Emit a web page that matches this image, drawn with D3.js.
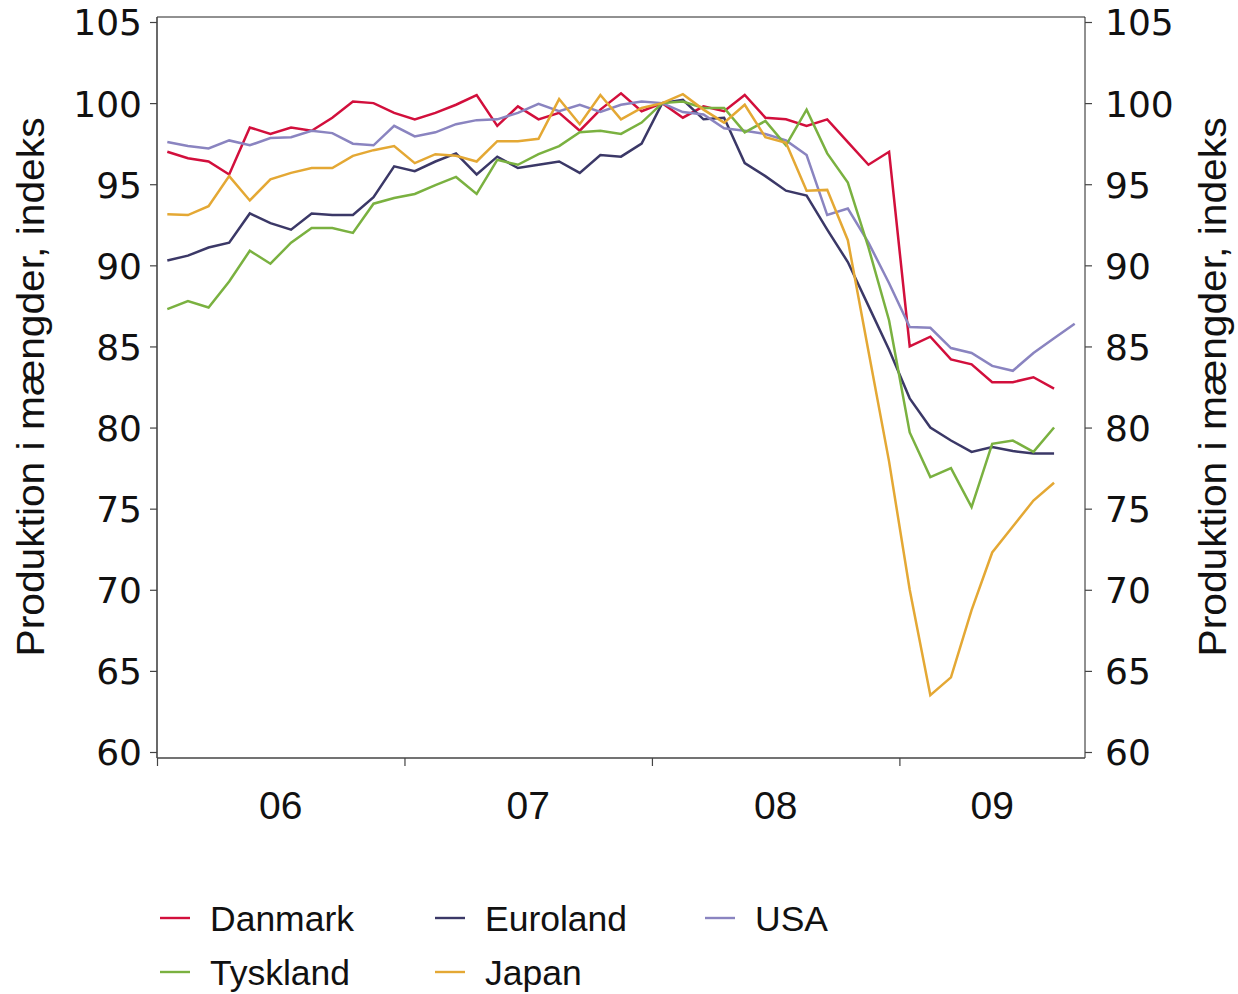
<!DOCTYPE html>
<html><head><meta charset="utf-8">
<script src="https://cdn.jsdelivr.net/npm/d3@7/dist/d3.min.js"></script>
<style>body{margin:0;background:#fff}svg{display:block}</style>
</head><body><svg id="c" width="1238" height="994"></svg>
<script>
// Monthly observations, Jan 2006 .. Sep 2009 (index 0 = Jan 2006)
const monthCount = 45;
const yearLabels = ["06","07","08","09"];
const yearStarts = [0, 12, 24, 36];
const yTicks = [60,65,70,75,80,85,90,95,100,105];

const danmark = [97.0,96.6,96.4,95.6,98.5,98.1,98.5,98.3,99.1,100.1,100.0,99.4,
  99.0,99.4,99.9,100.5,98.6,99.8,99.0,99.4,98.3,99.6,100.6,99.5,
  100.0,99.1,99.8,99.5,100.5,99.1,99.0,98.6,99.0,97.6,96.2,97.0,
  85.0,85.6,84.2,83.9,82.8,82.8,83.1,82.4];
const euroland = [90.3,90.6,91.1,91.4,93.2,92.6,92.2,93.2,93.1,93.1,94.2,96.1,
  95.8,96.4,96.9,95.6,96.7,96.0,96.2,96.4,95.7,96.8,96.7,97.5,
  100.0,100.2,99.0,99.1,96.3,95.5,94.6,94.3,92.2,90.2,87.5,84.8,
  81.8,80.0,79.2,78.5,78.8,78.55,78.4,78.4];
const usa = [97.6,97.35,97.2,97.7,97.4,97.85,97.9,98.3,98.15,97.5,97.4,98.6,
  97.95,98.2,98.7,98.95,99.0,99.4,99.95,99.5,99.9,99.45,99.9,100.1,
  100.0,99.45,99.3,98.45,98.3,98.1,97.7,96.8,93.1,93.5,91.4,88.9,
  86.2,86.15,84.9,84.6,83.8,83.5,84.6,85.5,86.4];
const tyskland = [87.3,87.8,87.4,89.0,90.9,90.1,91.4,92.3,92.3,92.0,93.8,94.15,
  94.4,94.95,95.45,94.4,96.5,96.2,96.85,97.35,98.2,98.3,98.1,98.8,
  100.0,100.1,99.7,99.7,98.2,98.9,97.4,99.6,96.9,95.1,91.1,86.6,
  79.7,76.95,77.5,75.1,79.0,79.2,78.5,80.0];
const japan = [93.15,93.1,93.65,95.5,94.0,95.3,95.7,96.0,96.0,96.75,97.1,97.35,
  96.3,96.85,96.75,96.4,97.65,97.65,97.8,100.25,98.7,100.5,99.0,99.7,
  100.0,100.55,99.6,98.8,99.9,97.9,97.55,94.6,94.65,91.55,84.7,77.9,
  70.0,63.5,64.6,68.75,72.3,73.9,75.5,76.6];

const seriesNames = ["Danmark","Euroland","USA","Tyskland","Japan"];
const seriesData = [danmark, euroland, usa, tyskland, japan];
const seriesColors = ["#d20f3c","#3b3867","#8a84c0","#7ab140","#e4a834"];

const svg = d3.select("#c");
const L = 157, R = 1085, T = 17, B = 758;
const x = d3.scaleLinear().domain([0, monthCount]).range([L, R]);
const y = d3.scaleLinear().domain([60, 105]).range([752, 22]);

// frame
svg.append("line").attr("x1",L).attr("x2",R).attr("y1",T).attr("y2",T).attr("stroke","#222").attr("stroke-width",1);
svg.append("line").attr("x1",R).attr("x2",R).attr("y1",T).attr("y2",B).attr("stroke","#222").attr("stroke-width",1);
svg.append("line").attr("x1",L).attr("x2",L).attr("y1",T).attr("y2",B).attr("stroke","#444").attr("stroke-width",1.6);
svg.append("line").attr("x1",L).attr("x2",R).attr("y1",B).attr("y2",B).attr("stroke","#444").attr("stroke-width",1.6);

const numFont = "'DejaVu Sans', sans-serif";
// left axis
const gl = svg.append("g").attr("transform",`translate(${L},0)`)
  .call(d3.axisLeft(y).tickValues(yTicks).tickSize(7).tickPadding(8).tickFormat(d3.format("d")));
gl.select(".domain").remove();
gl.selectAll(".tick line").attr("stroke","#444").attr("stroke-width",1.2);
gl.selectAll(".tick text").attr("font-family",numFont).attr("font-size",36).attr("fill","#111").attr("dy","0.36em");
// right axis
const gr = svg.append("g").attr("transform",`translate(${R},0)`)
  .call(d3.axisRight(y).tickValues(yTicks).tickSize(7).tickPadding(13).tickFormat(d3.format("d")));
gr.select(".domain").remove();
gr.selectAll(".tick line").attr("stroke","#444").attr("stroke-width",1.2);
gr.selectAll(".tick text").attr("font-family",numFont).attr("font-size",36).attr("fill","#111").attr("dy","0.36em");

// bottom axis: year boundary ticks
const gb = svg.append("g").attr("transform",`translate(0,${B})`)
  .call(d3.axisBottom(x).tickValues(yearStarts).tickSize(8).tickFormat(""));
gb.select(".domain").remove();
gb.selectAll(".tick line").attr("stroke","#444").attr("stroke-width",1.2);
// year labels centered in each year's span
const yearEnds = yearStarts.slice(1).concat([monthCount]);
svg.append("g").selectAll("text").data(yearLabels).join("text")
  .attr("x",(d,i)=>x((yearStarts[i]+yearEnds[i])/2))
  .attr("y",819)
  .attr("text-anchor","middle")
  .attr("font-family","'Liberation Sans Narrow', 'Liberation Sans', sans-serif")
  .attr("font-size",39).attr("fill","#111")
  .text(d=>d);

// axis titles
const titleFont = "'Liberation Sans Narrow', 'Liberation Sans', sans-serif";
[[44],[1226]].forEach(([bx])=>{
  svg.append("text")
    .attr("transform",`translate(${bx},387) rotate(-90)`)
    .attr("text-anchor","middle")
    .attr("font-family",titleFont).attr("font-size",39).attr("fill","#111")
    .attr("textLength",539).attr("lengthAdjust","spacingAndGlyphs")
    .text("Produktion i mængder, indeks");
});

// lines
const line = d3.line().x((d,i)=>x(i+0.5)).y(d=>y(d));
svg.append("g").selectAll("path").data(seriesData).join("path")
  .attr("d",d=>line(d)).attr("fill","none")
  .attr("stroke",(d,i)=>seriesColors[i]).attr("stroke-width",2.5)
  .attr("stroke-linejoin","miter");

// legend
const legendPos = [[160,918],[435,918],[705,918],[160,972],[435,972]];
const lg = svg.append("g").selectAll("g").data(seriesNames).join("g")
  .attr("transform",(d,i)=>`translate(${legendPos[i][0]},${legendPos[i][1]})`);
lg.append("line").attr("x1",0).attr("x2",30).attr("y1",0).attr("y2",0)
  .attr("stroke",(d,i)=>seriesColors[i]).attr("stroke-width",2.4);
lg.append("text").attr("x",50).attr("y",0).attr("dy","0.36em")
  .attr("font-family","'Liberation Sans', sans-serif").attr("font-size",35.5).attr("fill","#111")
  .text(d=>d);
</script></body></html>
